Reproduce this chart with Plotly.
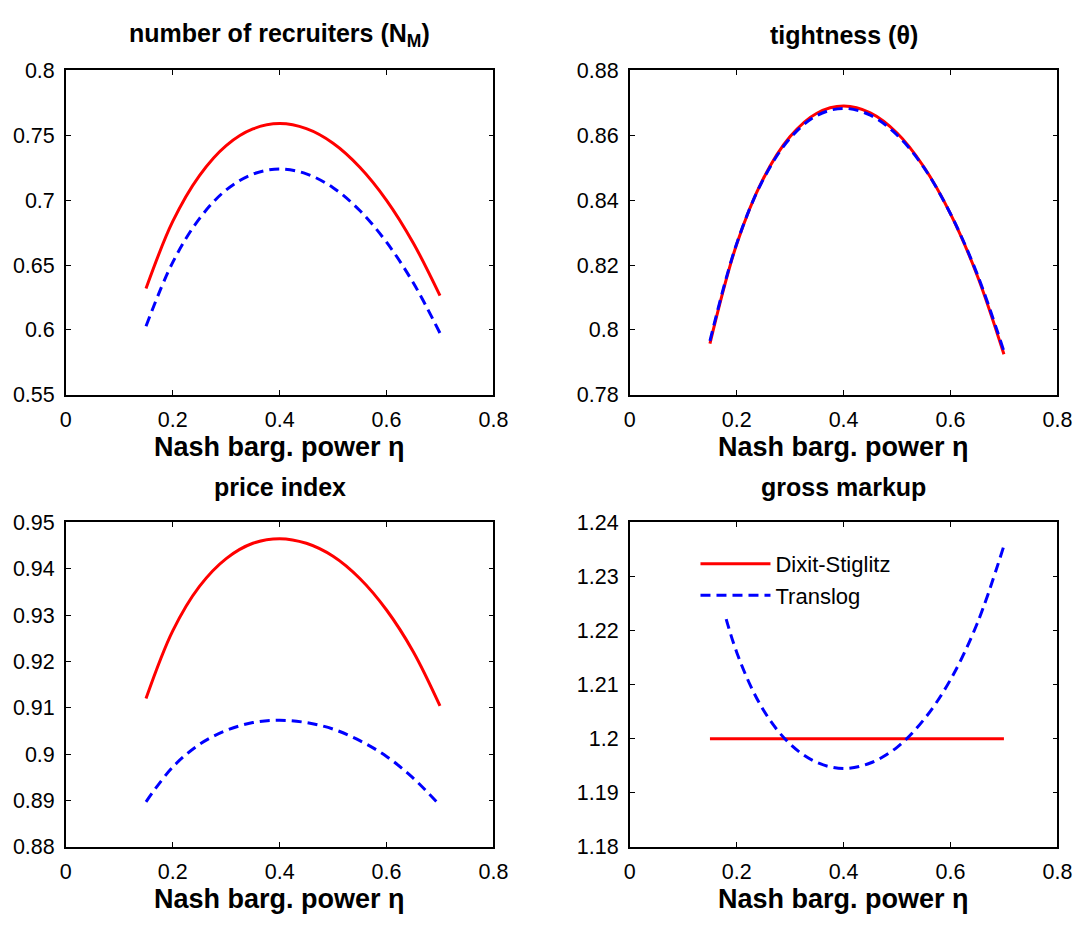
import plotly.graph_objects as go

# ---------------- data ----------------
eta = [0.15, 0.20, 0.25, 0.30, 0.35, 0.40, 0.45, 0.50, 0.55, 0.60, 0.65, 0.70]

nm_ds = [0.6319, 0.6836, 0.7190, 0.7421, 0.7549, 0.7590, 0.7551, 0.7439, 0.7254, 0.6999, 0.6670, 0.6264]
nm_tl = [0.6028, 0.6521, 0.6858, 0.7079, 0.7201, 0.7240, 0.7203, 0.7096, 0.6920, 0.6676, 0.6363, 0.5975]

th_ds = [0.7958, 0.8264, 0.8467, 0.8596, 0.8668, 0.8690, 0.8669, 0.8607, 0.8503, 0.8358, 0.8168, 0.7925]
th_tl = [0.7966, 0.8266, 0.8465, 0.8591, 0.8661, 0.8683, 0.8662, 0.8601, 0.8501, 0.8358, 0.8172, 0.7934]

p_ds = [0.9120, 0.9266, 0.9362, 0.9422, 0.9455, 0.9465, 0.9455, 0.9427, 0.9379, 0.9311, 0.9221, 0.9104]
p_tl = [0.8897, 0.8972, 0.9021, 0.9051, 0.9068, 0.9073, 0.9068, 0.9054, 0.9029, 0.8995, 0.8948, 0.8889]

mu_ds = [1.2000, 1.2000, 1.2000, 1.2000, 1.2000, 1.2000, 1.2000, 1.2000, 1.2000, 1.2000, 1.2000, 1.2000]
mu_tl = [1.2336, 1.2160, 1.2053, 1.1990, 1.1956, 1.1945, 1.1955, 1.1984, 1.2035, 1.2109, 1.2213, 1.2357]

titles = ["number of recruiters (N<sub>M</sub>)", "tightness (θ)", "price index", "gross markup"]
xlabel = "Nash barg. power η"
series_names = ["Dixit-Stiglitz", "Translog"]
x_ticks = [0, 0.2, 0.4, 0.6, 0.8]
y_ranges = [[0.55, 0.80], [0.78, 0.88], [0.88, 0.95], [1.18, 1.24]]
y_dticks = [0.05, 0.02, 0.01, 0.01]

# ---------------- layout geometry ----------------
W, H = 1092, 927
col_px = [(61, 497), (636, 1072)]
row_px = [(61, 394), (525, 858)]
FONT = "Liberation Sans, Arial, Helvetica, sans-serif"
RED = "#ff0000"
BLUE = "#0000ff"

panels = [
    (nm_ds, nm_tl, 0, 0),
    (th_ds, th_tl, 0, 1),
    (p_ds, p_tl, 1, 0),
    (mu_ds, mu_tl, 1, 1),
]

fig = go.Figure()
annotations = []
layout_axes = {}

for i, (ds, tl, r, c) in enumerate(panels):
    n = i + 1
    xa = "x" if n == 1 else f"x{n}"
    ya = "y" if n == 1 else f"y{n}"
    show = (n == 4)
    fig.add_trace(go.Scatter(
        x=eta, y=ds, xaxis=xa, yaxis=ya, mode="lines",
        line=dict(color=RED, width=3, shape="spline"),
        name=series_names[0], showlegend=show, legendgroup="a"))
    fig.add_trace(go.Scatter(
        x=eta, y=tl, xaxis=xa, yaxis=ya, mode="lines",
        line=dict(color=BLUE, width=3, dash="10px,6px", shape="spline"),
        name=series_names[1], showlegend=show, legendgroup="b"))

    x0, x1 = col_px[c]
    y0, y1 = row_px[r]
    xdom = [x0 / W, x1 / W]
    ydom = [1 - y1 / H, 1 - y0 / H]
    common = dict(showline=True, linecolor="black", linewidth=1.5, mirror="ticks",
                  ticks="inside", ticklen=5, tickwidth=1, tickcolor="black",
                  showgrid=False, zeroline=False,
                  tickfont=dict(family=FONT, size=21.5, color="black"))
    layout_axes["xaxis" if n == 1 else f"xaxis{n}"] = dict(
        domain=xdom, range=[0, 0.8], tickvals=x_ticks,
        ticktext=[f"{v:g}" for v in x_ticks], anchor=ya,
        ticklabelstandoff=5, **common)
    layout_axes["yaxis" if n == 1 else f"yaxis{n}"] = dict(
        domain=ydom, range=y_ranges[i], dtick=y_dticks[i], tick0=y_ranges[i][0],
        anchor=xa, ticklabelstandoff=5, **common)

    cx = (x0 + x1) / 2 / W
    annotations.append(dict(text=f"<b>{titles[i]}</b>", x=cx, y=1 - (y0 - 36) / H,
                            xref="paper", yref="paper", xanchor="center", yanchor="middle",
                            showarrow=False, font=dict(family=FONT, size=25, color="black")))
    annotations.append(dict(text=f"<b>{xlabel}</b>", x=cx, y=1 - (y1 + 54) / H,
                            xref="paper", yref="paper", xanchor="center", yanchor="middle",
                            showarrow=False, font=dict(family=FONT, size=27, color="black")))

fig.update_layout(
    width=W, height=H,
    margin=dict(l=0, r=0, t=0, b=0),
    paper_bgcolor="white", plot_bgcolor="white",
    hovermode=False,
    annotations=annotations,
    legend=dict(x=703 / W, y=1 - 546 / H, xanchor="left", yanchor="top",
                bgcolor="white", borderwidth=0, itemwidth=70,
                tracegroupgap=0,
                font=dict(family=FONT, size=22, color="black")),
    **layout_axes,
)

post = (
    "var gd=document.getElementById('{plot_id}');"
    "gd.style.position='fixed';gd.style.left='0px';gd.style.top='0px';"
    "document.body.style.margin='0';document.body.style.padding='0';"
    "document.body.style.overflow='hidden';"
    "document.documentElement.style.overflow='hidden';"
)
fig.write_html("out.html", config={"displayModeBar": False}, post_script=post)
